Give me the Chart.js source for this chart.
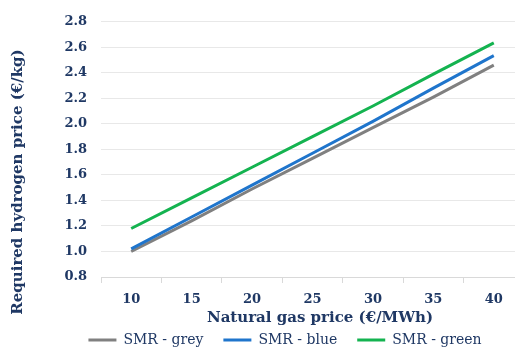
<!DOCTYPE html>
<html><head><meta charset="utf-8">
<script src="https://cdn.jsdelivr.net/npm/chart.js@4/dist/chart.umd.min.js"></script>
<style>
html,body{margin:0;padding:0;overflow:hidden;background:#fff;width:515px;height:349px}
#wrap{width:525px;height:349px}
</style></head>
<body><div id="wrap"><canvas id="c" width="525" height="349"></canvas></div>
<script>
const categories = ['10','15','20','25','30','35','40'];
const seriesNames = ['SMR - grey','SMR - blue','SMR - green'];
const greyValues = [1.00, 1.24, 1.49, 1.73, 1.97, 2.21, 2.46];
const blueValues = [1.02, 1.27, 1.52, 1.77, 2.02, 2.28, 2.535];
const greenValues = [1.18, 1.42, 1.66, 1.90, 2.14, 2.39, 2.635];
const yTicks = [0.8, 1.0, 1.2, 1.4, 1.6, 1.8, 2.0, 2.2, 2.4, 2.6, 2.8];
const xAxisTitle = 'Natural gas price (€/MWh)';
const yAxisTitle = 'Required hydrogen price (€/kg)';

const navy = '#1f3864';
const fontFam = '"DejaVu Serif", "Liberation Serif", serif';

const tweaks = {
  id: 'tweaks',
  afterLayout(chart) {
    const lg = chart.legend;
    const dx = 23;
    lg.left += dx; lg.right += dx;
    const pad = lg.options.labels.padding;
    const newTop = 340 - pad - 7;
    lg.bottom += newTop - lg.top; lg.top = newTop;
  },
  afterDraw(chart) {
    const ctx = chart.ctx;
    ctx.save();
    ctx.fillStyle = navy;
    ctx.font = 'bold 15px ' + fontFam;
    ctx.textAlign = 'center';
    ctx.textBaseline = 'middle';
    ctx.fillText(xAxisTitle, 320, 318);
    ctx.translate(18, 182);
    ctx.rotate(-Math.PI / 2);
    ctx.fillText(yAxisTitle, 0, 0);
    ctx.restore();
  }
};

new Chart(document.getElementById('c'), {
  type: 'line',
  data: {
    labels: categories,
    datasets: [
      {label: seriesNames[0], data: greyValues, borderColor: '#808080', backgroundColor: '#808080', order: 2},
      {label: seriesNames[1], data: blueValues, borderColor: '#1f75cc', backgroundColor: '#1f75cc', order: 1},
      {label: seriesNames[2], data: greenValues, borderColor: '#14b350', backgroundColor: '#14b350', order: 0}
    ].map(d => Object.assign(d, {borderWidth: 3, pointRadius: 0, tension: 0, fill: false}))
  },
  options: {
    responsive: false,
    devicePixelRatio: 1,
    animation: false,
    layout: {padding: {top: 13, left: 0, right: 1, bottom: 0}},
    plugins: {
      legend: {
        position: 'bottom',
        labels: {
          usePointStyle: true, pointStyle: 'line', pointStyleWidth: 28,
          color: navy, font: {family: fontFam, size: 14}, padding: 20, boxHeight: 14,
          sort: (a, b) => a.datasetIndex - b.datasetIndex
        }
      },
      tooltip: {enabled: false}
    },
    scales: {
      x: {
        type: 'category',
        offset: true,
        grid: {offset: true, drawOnChartArea: false, drawTicks: true, tickLength: 6, color: '#d9d9d9'},
        border: {color: '#d9d9d9'},
        ticks: {color: navy, font: {family: fontFam, size: 13, weight: 'bold'}, padding: 9, maxRotation: 0, autoSkip: false},
        afterFit(scale) { scale.height = 72 - scale.chart.legend.height; }
      },
      y: {
        min: 0.8, max: 2.8,
        afterBuildTicks(scale) { scale.ticks = yTicks.map(v => ({value: v})); },
        grid: {color: '#e8e8e8', drawTicks: false},
        border: {display: false},
        ticks: {color: navy, font: {family: fontFam, size: 13, weight: 'bold'}, padding: 14, callback: v => Number(v).toFixed(1)},
        afterFit(scale) { scale.width = 101; }
      }
    }
  },
  plugins: [tweaks]
});
</script>
</body></html>
